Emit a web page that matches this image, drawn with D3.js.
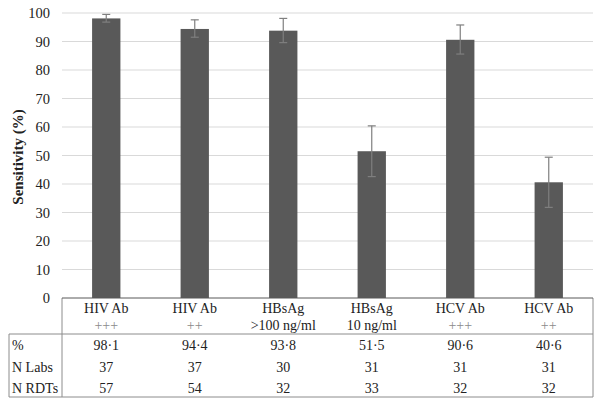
<!DOCTYPE html>
<html><head><meta charset="utf-8">
<script src="https://cdn.jsdelivr.net/npm/d3@7"></script>
<style>body{margin:0;background:#fff}svg{display:block}</style>
</head><body>
<svg id="c" width="602" height="407"></svg>
<script>
const categories = ["HIV Ab|+++", "HIV Ab|++", "HBsAg|>100 ng/ml", "HBsAg|10 ng/ml", "HCV Ab|+++", "HCV Ab|++"];
const sensitivity = [98.1, 94.4, 93.8, 51.5, 90.6, 40.6];
const errLow = [96.8, 91.5, 89.6, 42.6, 85.6, 31.8];
const errHigh = [99.5, 97.6, 98.1, 60.4, 95.8, 49.4];
const pctLabels = ["98·1", "94·4", "93·8", "51·5", "90·6", "40·6"];
const nLabs = [37, 37, 30, 31, 31, 31];
const nRDTs = [57, 54, 32, 33, 32, 32];
const yTicks = [0, 10, 20, 30, 40, 50, 60, 70, 80, 90, 100];
const rowLabels = ["%", "N Labs", "N RDTs"];

const svg = d3.select("#c");
const font = "'Liberation Serif','Times New Roman',serif";
const L = 62, R = 593, T = 13, B = 298;
const x = d3.scaleBand().domain(categories).range([L, R]).paddingInner(0.68).paddingOuter(0.34);
const y = d3.scaleLinear().domain([0, 100]).range([B, T]);

// gridlines
svg.append("g").selectAll("line").data(yTicks.filter(d => d > 0)).join("line")
  .attr("x1", L).attr("x2", R).attr("y1", d => y(d)).attr("y2", d => y(d))
  .attr("stroke", "#d9d9d9").attr("stroke-width", 1);

// y axis tick labels
const yAxis = d3.axisLeft(y).tickValues(yTicks).tickSize(0).tickPadding(12);
const gy = svg.append("g").attr("transform", `translate(${L},0)`).call(yAxis);
gy.select(".domain").remove();
gy.selectAll("text").attr("font-family", font).attr("font-size", 14.5).attr("fill", "#222");

// bars
svg.append("g").selectAll("rect").data(categories).join("rect")
  .attr("x", d => x(d)).attr("width", x.bandwidth())
  .attr("y", (d, i) => y(sensitivity[i])).attr("height", (d, i) => y(0) - y(sensitivity[i]))
  .attr("fill", "#595959");

// error bars
const eg = svg.append("g").attr("stroke", "#7f7f7f").attr("stroke-width", 1.2);
categories.forEach((c, i) => {
  const cx = x(c) + x.bandwidth() / 2;
  eg.append("line").attr("x1", cx).attr("x2", cx).attr("y1", y(errLow[i])).attr("y2", y(errHigh[i]));
  eg.append("line").attr("x1", cx - 4).attr("x2", cx + 4).attr("y1", y(errLow[i])).attr("y2", y(errLow[i]));
  eg.append("line").attr("x1", cx - 4).attr("x2", cx + 4).attr("y1", y(errHigh[i])).attr("y2", y(errHigh[i]));
});

// y label
svg.append("text").attr("transform", `translate(23,157) rotate(-90)`)
  .attr("text-anchor", "middle").attr("font-family", font).attr("font-size", 15)
  .attr("font-weight", "bold").attr("fill", "#222").text("Sensitivity (%)");

// table
const tl = svg.append("g").attr("stroke", "#8c8c8c").attr("stroke-width", 1).attr("fill", "none");
const TL = 9, H1 = 334, TB = 397;
tl.append("line").attr("x1", TL).attr("x2", R).attr("y1", H1).attr("y2", H1);
tl.append("line").attr("x1", TL).attr("x2", R).attr("y1", TB).attr("y2", TB);
tl.append("line").attr("x1", TL).attr("x2", TL).attr("y1", H1).attr("y2", TB);
tl.append("line").attr("x1", L).attr("x2", L).attr("y1", B).attr("y2", TB);
tl.append("line").attr("x1", R).attr("x2", R).attr("y1", B).attr("y2", TB);
// axis line
svg.append("line").attr("x1", L).attr("x2", R).attr("y1", B).attr("y2", B).attr("stroke", "#595959").attr("stroke-width", 1);

const tg = svg.append("g").attr("font-family", font).attr("font-size", 14).attr("fill", "#222").attr("text-anchor", "middle");
categories.forEach((c, i) => {
  const cx = x(c) + x.bandwidth() / 2;
  const parts = c.split("|");
  tg.append("text").attr("x", cx).attr("y", 313).text(parts[0]);
  const isPlus = /^\++$/.test(parts[1]);
  tg.append("text").attr("x", cx).attr("y", 330).attr("fill", isPlus ? "#8a8a8a" : "#222")
    .attr("font-size", 14).text(parts[1]);
  tg.append("text").attr("x", cx).attr("y", 350).text(pctLabels[i]);
  tg.append("text").attr("x", cx).attr("y", 372).text(nLabs[i]);
  tg.append("text").attr("x", cx).attr("y", 393).text(nRDTs[i]);
});
const rowY = [350, 372, 393];
rowLabels.forEach((t, i) => {
  svg.append("text").attr("x", 12).attr("y", rowY[i]).attr("font-family", font)
    .attr("font-size", 14).attr("fill", "#222").text(t);
});
</script>
</body></html>
